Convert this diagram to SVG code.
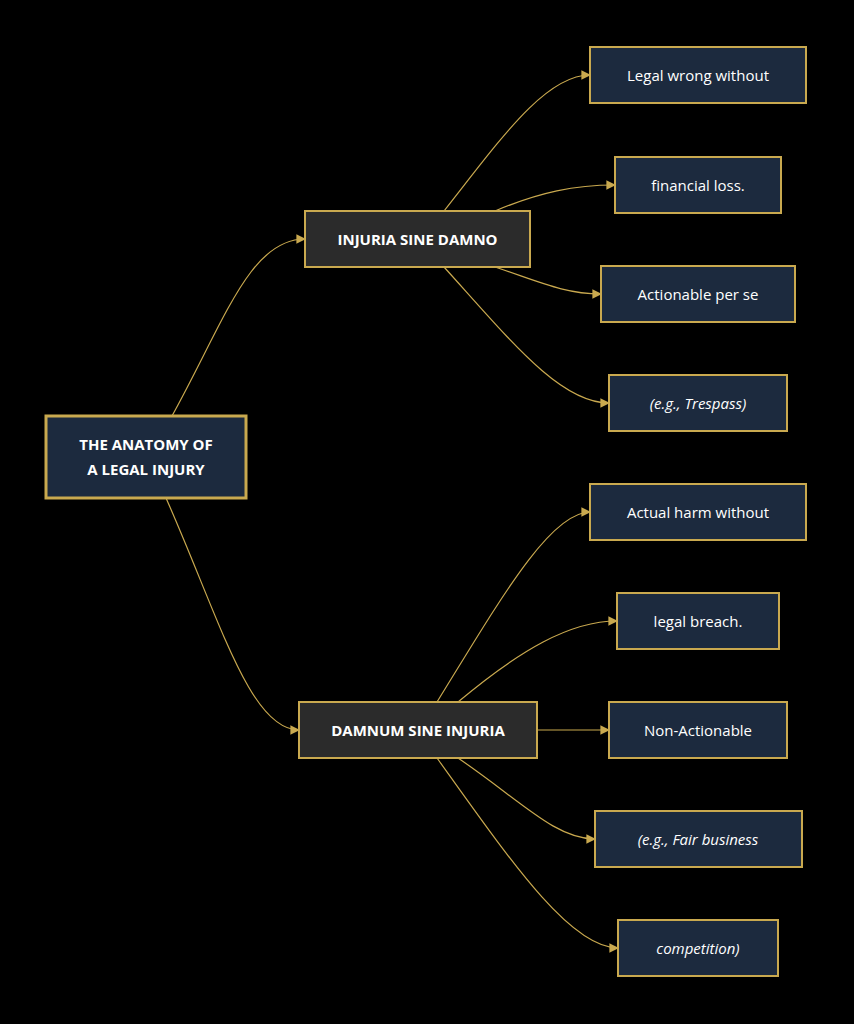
<svg xmlns="http://www.w3.org/2000/svg" width="854" height="1024" viewBox="0 0 854 1024">
<style>
.leaf{fill:#1c2a3e;stroke:#c9a94f;stroke-width:2}
.mid{fill:#2b2b2b;stroke:#c9a94f;stroke-width:2}
.root{fill:#1c2a3e;stroke:#c9a94f;stroke-width:3}
text{font-family:"Open Sans","DejaVu Sans",sans-serif;fill:#ffffff;font-size:15px;text-anchor:middle;dominant-baseline:central}
.b{font-weight:bold}
.i{font-style:italic}
.e{fill:none;stroke:#c9a94f;stroke-width:1.2}
</style>
<defs><marker id="a" viewBox="0 0 10 10" refX="9" refY="5" markerWidth="8" markerHeight="8" orient="auto"><path d="M0,0L10,5L0,10z" fill="#c9a94f"/></marker></defs>
<rect width="854" height="1024" fill="#000"/>
<g id="connectors">
<path class="e" marker-end="url(#a)" d="M172,416 C225,320 250,239 305,239"/>
<path class="e" marker-end="url(#a)" d="M166,498 C220,620 250,730 299,730"/>
<path class="e" marker-end="url(#a)" d="M444,211 C500,140 545,75 590,75"/>
<path class="e" marker-end="url(#a)" d="M495,211 C540,192 575,185 615,185"/>
<path class="e" marker-end="url(#a)" d="M495,267 C540,282 565,294 601,294"/>
<path class="e" marker-end="url(#a)" d="M444,267 C510,340 560,403 609,403"/>
<path class="e" marker-end="url(#a)" d="M437,702 C500,600 550,512 590,512"/>
<path class="e" marker-end="url(#a)" d="M458,702 C520,650 570,621 617,621"/>
<path class="e" marker-end="url(#a)" d="M537,730 L609,730"/>
<path class="e" marker-end="url(#a)" d="M458,758 C520,800 555,839 595,839"/>
<path class="e" marker-end="url(#a)" d="M437,758 C510,860 570,948 618,948"/>
</g>
<g id="root"><rect class="root" x="46" y="416" width="200" height="82"/><text class="b" x="146" y="444">THE ANATOMY OF</text><text class="b" x="146" y="469">A LEGAL INJURY</text></g>
<g id="injuria"><rect class="mid" x="305" y="211" width="225" height="56"/><text class="b" x="417.5" y="239">INJURIA SINE DAMNO</text></g>
<g id="damnum"><rect class="mid" x="299" y="702" width="238" height="56"/><text class="b" x="418" y="730">DAMNUM SINE INJURIA</text></g>
<g id="l1"><rect class="leaf" x="590" y="47" width="216" height="56"/><text x="698" y="75">Legal wrong without</text></g>
<g id="l2"><rect class="leaf" x="615" y="157" width="166" height="56"/><text x="698" y="185">financial loss.</text></g>
<g id="l3"><rect class="leaf" x="601" y="266" width="194" height="56"/><text x="698" y="294">Actionable per se</text></g>
<g id="l4"><rect class="leaf" x="609" y="375" width="178" height="56"/><text class="i" x="698" y="403">(e.g., Trespass)</text></g>
<g id="l5"><rect class="leaf" x="590" y="484" width="216" height="56"/><text x="698" y="512">Actual harm without</text></g>
<g id="l6"><rect class="leaf" x="617" y="593" width="162" height="56"/><text x="698" y="621">legal breach.</text></g>
<g id="l7"><rect class="leaf" x="609" y="702" width="178" height="56"/><text x="698" y="730">Non-Actionable</text></g>
<g id="l8"><rect class="leaf" x="595" y="811" width="207" height="56"/><text class="i" x="698" y="839">(e.g., Fair business</text></g>
<g id="l9"><rect class="leaf" x="618" y="920" width="160" height="56"/><text class="i" x="698" y="948">competition)</text></g>
</svg>
